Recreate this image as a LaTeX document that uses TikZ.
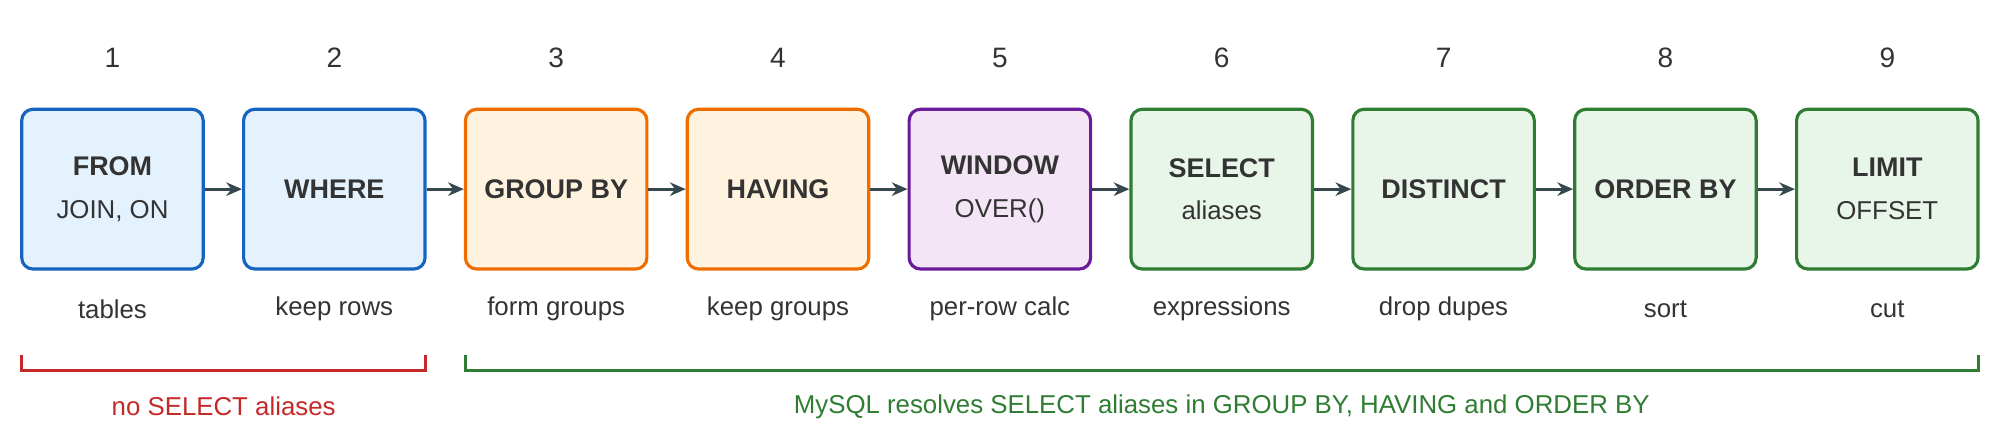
\documentclass[tikz,border=0pt]{standalone}
\usepackage{fontspec}
\setmainfont{Liberation Sans}
\usetikzlibrary{arrows.meta}
\definecolor{bB}{HTML}{1565C0}\definecolor{bF}{HTML}{E3F2FD}
\definecolor{oB}{HTML}{EF6C00}\definecolor{oF}{HTML}{FFF3E0}
\definecolor{pB}{HTML}{6A1B9A}\definecolor{pF}{HTML}{F3E5F5}
\definecolor{gB}{HTML}{2E7D32}\definecolor{gF}{HTML}{E8F5E9}
\definecolor{rB}{HTML}{C62828}\definecolor{ar}{HTML}{37474F}\definecolor{tx}{HTML}{333333}
\begin{document}
\begin{tikzpicture}[x=0.02cm,y=0.02cm,
 box/.style={draw,line width=1.4pt,rounded corners=5pt,minimum width=142*0.02cm,minimum height=125*0.02cm,inner sep=0pt,align=center},
 num/.style={font=\fontsize{12.5}{15}\selectfont,text=tx},
 sub/.style={font=\fontsize{11.5}{14}\selectfont,text=tx},
 arr/.style={-{Stealth[length=7pt,width=6pt]},line width=1.4pt,ar}]
\useasboundingbox (0,0) rectangle (1565,349);
\def\ttl#1#2{{\fontsize{12}{14}\selectfont\bfseries #1}\\[7pt]{\fontsize{11.5}{14}\selectfont #2}}
\foreach \i/\t/\s/\d/\c/\f in {1/FROM/{JOIN, ON}/tables/bB/bF,2/WHERE//keep rows/bB/bF,3/GROUP BY//form groups/oB/oF,4/HAVING//keep groups/oB/oF,5/WINDOW/OVER()/per-row calc/pB/pF,6/SELECT/aliases/expressions/gB/gF,7/DISTINCT//drop dupes/gB/gF,8/ORDER BY//sort/gB/gF,9/LIMIT/OFFSET/cut/gB/gF}{
 \pgfmathsetmacro{\x}{88+173.6*(\i-1)}
 \node[box,draw=\c,fill=\f,text=tx] (b\i) at (\x,201) {\if\relax\detokenize\expandafter{\s}\relax{\fontsize{12}{14}\selectfont\bfseries \t}\else\ttl{\t}{\s}\fi};
 \node[num] (n\i) at (\x,304) {\i};
 \node[sub] (s\i) at (\x,107) {\d};
}
\foreach \a/\b in {1/2,2/3,3/4,4/5,5/6,6/7,7/8,8/9}{\draw[arr] (b\a.east) -- (b\b.west);}
\coordinate (r1) at (17,59);\coordinate (r2) at (333,59);
\coordinate (g1) at (364,59);\coordinate (g2) at (1548,59);
\draw[rB,line width=1.4pt] ([yshift=12*0.02cm]r1) -- (r1) -- (r2) -- ([yshift=12*0.02cm]r2);
\draw[gB,line width=1.4pt] ([yshift=12*0.02cm]g1) -- (g1) -- (g2) -- ([yshift=12*0.02cm]g2);
\node[sub,text=rB] (lr) at (175,31) {no SELECT aliases};
\node[sub,text=gB] (lg) at (956,31) {MySQL resolves SELECT aliases in GROUP BY, HAVING and ORDER BY};
\end{tikzpicture}
\end{document}
